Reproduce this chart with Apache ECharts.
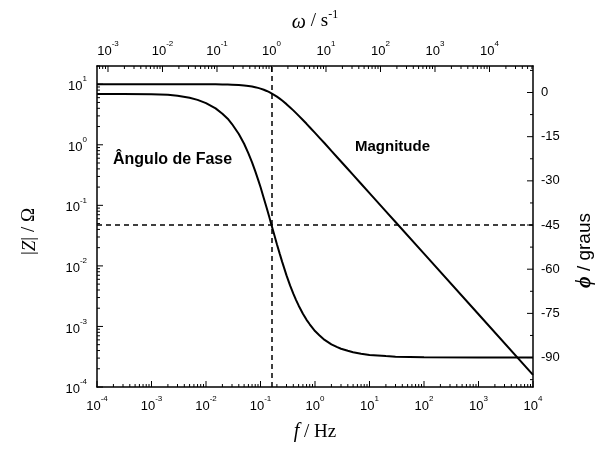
<!DOCTYPE html>
<html>
<head>
<meta charset="utf-8">
<script src="https://cdn.jsdelivr.net/npm/echarts@6/dist/echarts.min.js"></script>
<style>
  html, body { margin: 0; padding: 0; background: #fff; }
  #main { width: 598px; height: 454px; }
</style>
</head>
<body>
<div id="main"></div>
<script>
    // dados (circuito RC, diagrama de Bode)
    var freq = [1e-4, 3e-4, 1e-3, 0.002, 0.003, 0.005, 0.007, 0.01, 0.015, 0.02, 0.025, 0.03, 0.04, 0.05, 0.06, 0.07, 0.08, 0.09, 0.1,
                0.115, 0.13, 0.145, 0.159, 0.18, 0.2, 0.225, 0.25, 0.3, 0.35, 0.4, 0.45, 0.5, 0.6, 0.7, 0.8,
                1, 1.2, 1.5, 2, 2.5, 3, 4, 5, 7, 10, 20, 30, 100, 1000, 1e4];
    var magnitude = [10, 10, 10, 10, 10, 9.995, 9.99, 9.98, 9.956, 9.92, 9.879, 9.83, 9.698, 9.54, 9.357, 9.15, 8.935, 8.705, 8.47,
                     8.105, 7.74, 7.392, 7.074, 6.624, 6.23, 5.775, 5.37, 4.69, 4.139, 3.70, 3.334, 3.03, 2.564, 2.22, 1.951,
                     1.57, 1.315, 1.06, 0.793, 0.6353, 0.530, 0.3976, 0.318, 0.2273, 0.159, 0.0796, 0.0531, 0.0159, 0.00159, 0.000159];
    var phase = [-0.5, -0.5, -0.6, -0.8, -1.1, -1.8, -2.5, -3.6, -5.4, -7.2, -8.9, -10.7, -14.1, -17.4, -20.7, -23.7, -26.7, -29.5, -32.1,
                 -35.9, -39.2, -42.3, -45, -48.5, -51.5, -54.7, -57.5, -62.1, -65.6, -68.3, -70.5, -72.3, -75.1, -77.2, -78.7,
                 -81.0, -82.4, -84.0, -85.5, -86.4, -87.0, -87.7, -88.2, -88.7, -89.1, -89.5, -89.7, -89.9, -90, -90];

    // rótulos dos eixos (expoentes de 10 / graus)
    var fTicks   = [-4, -3, -2, -1, 0, 1, 2, 3, 4];
    var wTicks   = [-3, -2, -1, 0, 1, 2, 3, 4];
    var zTicks   = [-4, -3, -2, -1, 0, 1];
    var phiTicks = [0, -15, -30, -45, -60, -75, -90];
    var phiMinor = [7.5, -7.5, -22.5, -37.5, -52.5, -67.5, -82.5, -97.5];

    var fCut = 0.159;   // frequência de corte
    var phiCut = -45;

    var black = '#000';
    var sans = 'Liberation Sans';
    var serif = 'Liberation Serif';

    var fMin = 1e-4, fMax = 1e4;
    var zMin = 1e-4, zMax = 20;
    var phiMin = -100, phiMax = 9;
    var wMin = Math.log10(2 * Math.PI * fMin), wMax = Math.log10(2 * Math.PI * fMax);

    var gLeft = 97, gRight = 65, gTop = 66, gBottom = 67;
    var W = 598, H = 454;

    var tickRich = {
        b: { fontSize: 13, fontFamily: sans, color: black, lineHeight: 18, verticalAlign: 'bottom' },
        s: { fontSize: 8, fontFamily: sans, color: black, lineHeight: 10, verticalAlign: 'top' }
    };
    function pow10(v) { return '{b|10}{s|' + Math.round(v) + '}'; }

    var lineSt = { color: black, width: 1.5 };

    // eixo só com rótulos (escala log10), sobreposto ao eixo log
    function labelAxis(pos, min, max, values, margin) {
        return {
            type: 'value', position: pos, min: min, max: max,
            axisLine: { show: false, onZero: false },
            axisTick: { show: false },
            axisLabel: { customValues: values, formatter: pow10, rich: tickRich, margin: margin },
            splitLine: { show: false }
        };
    }

    var myChart = echarts.init(document.getElementById('main'));

    var option = {
        animation: false,
        backgroundColor: '#fff',
        grid: { left: gLeft, right: gRight, top: gTop, bottom: gBottom, outerBoundsMode: 'none' },
        xAxis: [
            {
                type: 'log', position: 'bottom', min: fMin, max: fMax,
                axisLine: { onZero: false, lineStyle: lineSt },
                axisTick: { show: false }, axisLabel: { show: false }, splitLine: { show: false },
                name: '{i|f} / Hz', nameLocation: 'middle', nameGap: 35,
                nameTextStyle: {
                    fontFamily: serif, fontSize: 19, color: black,
                    rich: { i: { fontFamily: serif, fontSize: 20, fontStyle: 'italic', color: black } }
                }
            },
            labelAxis('bottom', -4, 4, fTicks, 8),
            Object.assign(labelAxis('top', wMin, wMax, wTicks, 8), {
                axisLine: { show: true, onZero: false, lineStyle: lineSt },
                name: '{i|ω} / s{s|-1}', nameLocation: 'middle', nameGap: 33,
                nameTextStyle: {
                    fontFamily: serif, fontSize: 19, color: black,
                    rich: {
                        i: { fontFamily: serif, fontSize: 20, fontStyle: 'italic', color: black, lineHeight: 24, verticalAlign: 'bottom' },
                        s: { fontFamily: serif, fontSize: 12, color: black, lineHeight: 12, verticalAlign: 'top' }
                    }
                }
            })
        ],
        yAxis: [
            {
                type: 'log', position: 'left', min: zMin, max: zMax,
                axisLine: { onZero: false, lineStyle: lineSt },
                axisTick: { show: false }, axisLabel: { show: false }, splitLine: { show: false },
                name: '|{i|Z}| / Ω', nameLocation: 'middle', nameGap: 58, nameRotate: 90,
                nameTextStyle: {
                    fontFamily: serif, fontSize: 19, color: black, padding: [0, 10, 0, 0],
                    rich: { i: { fontFamily: serif, fontSize: 19, fontStyle: 'italic', color: black } }
                }
            },
            labelAxis('left', -4, Math.log10(zMax), zTicks, 10),
            {
                type: 'value', position: 'right', min: phiMin, max: phiMax,
                axisLine: { show: true, onZero: false, lineStyle: lineSt },
                axisTick: { show: false },
                axisLabel: { customValues: phiTicks, fontFamily: sans, fontSize: 13, color: black, margin: 8 },
                splitLine: { show: false },
                name: '{i|ϕ} / graus', nameLocation: 'middle', nameGap: 42, nameRotate: 90,
                nameTextStyle: {
                    fontFamily: sans, fontSize: 19, color: black, padding: [0, 48, 0, 0],
                    rich: { i: { fontFamily: serif, fontSize: 20, fontStyle: 'italic', fontWeight: 'bold', color: black } }
                }
            }
        ],
        series: [
            {
                name: 'Magnitude', type: 'line', xAxisIndex: 0, yAxisIndex: 0,
                data: freq.map(function (f, i) { return [f, magnitude[i]]; }),
                showSymbol: false,
                lineStyle: { color: black, width: 2 }
            },
            {
                name: 'Ângulo de Fase', type: 'line', xAxisIndex: 0, yAxisIndex: 2,
                data: freq.map(function (f, i) { return [f, phase[i]]; }),
                showSymbol: false,
                lineStyle: { color: black, width: 2 },
                markLine: {
                    silent: true, symbol: 'none', label: { show: false },
                    lineStyle: { color: black, width: 1.5, type: [5, 4] },
                    data: [{ yAxis: phiCut }, { xAxis: fCut }]
                }
            }
        ]
    };

    myChart.setOption(option);

    // marcas de escala (internas), posicionadas pelas escalas do próprio gráfico
    var x0 = gLeft, x1 = W - gRight, y0 = gTop, y1 = H - gBottom;
    var graphics = [
        { type: 'text', left: 113, top: 152, style: { text: 'Ângulo de Fase', fontFamily: sans, fontWeight: 'bold', fontSize: 16, fill: black } },
        { type: 'text', left: 355, top: 139, style: { text: 'Magnitude', fontFamily: sans, fontWeight: 'bold', fontSize: 15, fill: black } }
    ];
    function tick(xa, ya, xb, yb) {
        graphics.push({ type: 'line', silent: true, shape: { x1: xa, y1: ya, x2: xb, y2: yb }, style: { stroke: black, lineWidth: 1 } });
    }
    function decadeTicks(lo, hi, cb) {
        for (var k = Math.floor(Math.log10(lo)) - 1; k <= Math.ceil(Math.log10(hi)); k++) {
            for (var m = 1; m <= 9; m++) {
                var v = m * Math.pow(10, k);
                if (v >= lo * 0.999 && v <= hi * 1.001) cb(v, m === 1);
            }
        }
    }
    // eixo inferior: f
    decadeTicks(fMin, fMax, function (f, major) {
        var px = myChart.convertToPixel({ xAxisIndex: 0 }, f);
        tick(px, y1, px, y1 - (major ? 6 : 3));
    });
    // eixo superior: ω = 2πf
    decadeTicks(2 * Math.PI * fMin, 2 * Math.PI * fMax, function (w, major) {
        var px = myChart.convertToPixel({ xAxisIndex: 0 }, w / (2 * Math.PI));
        tick(px, y0, px, y0 + (major ? 6 : 3));
    });
    // eixo esquerdo: |Z|
    decadeTicks(zMin, zMax, function (z, major) {
        var py = myChart.convertToPixel({ yAxisIndex: 0 }, z);
        tick(x0, py, x0 + (major ? 6 : 3), py);
    });
    // eixo direito: fase
    phiTicks.forEach(function (p) {
        var py = myChart.convertToPixel({ yAxisIndex: 2 }, p);
        tick(x1, py, x1 - 6, py);
    });
    phiMinor.forEach(function (p) {
        var py = myChart.convertToPixel({ yAxisIndex: 2 }, p);
        tick(x1, py, x1 - 3, py);
    });

    myChart.setOption({ graphic: graphics });
</script>
</body>
</html>
